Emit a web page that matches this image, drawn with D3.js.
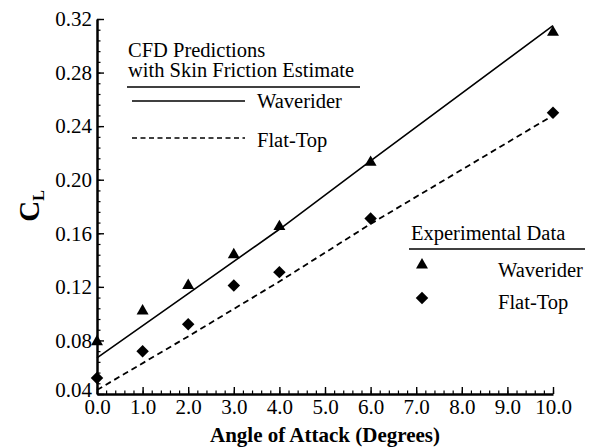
<!DOCTYPE html>
<html><head><meta charset="utf-8">
<script src="https://cdn.jsdelivr.net/npm/d3@7"></script>
<style>
body{margin:0;background:#fff;}
svg text{font-family:"Liberation Serif","Tinos","Times New Roman","DejaVu Serif","Noto Serif",serif !important;fill:#000;}
</style></head>
<body><svg id="c" width="611" height="447"></svg>
<script>
// ---- data ----
const expAngles = [0, 1, 2, 3, 4, 6, 10];
const expWaverider = [0.079, 0.102, 0.121, 0.144, 0.165, 0.213, 0.310];
const expFlatTop   = [0.052, 0.072, 0.092, 0.121, 0.131, 0.171, 0.250];
const cfdAngles = [0, 2, 4, 6, 10];
const cfdWaverider = [0.067, 0.115, 0.163, 0.214, 0.315];
const cfdFlatTop   = [0.043, 0.083, 0.124, 0.167, 0.248];
const xTicks = [0,1,2,3,4,5,6,7,8,9,10];
const yTicks = [0.04,0.08,0.12,0.16,0.20,0.24,0.28,0.32];

const svg = d3.select("#c");
const x = d3.scaleLinear().domain([0,10]).range([97,553]);
const y = d3.scaleLinear().domain([0.04,0.32]).range([394,19]);

// minor ticks
const xMinor = d3.range(0,10.0001,0.2);
const yMinor = d3.range(0.04,0.32001,0.008);
svg.append("g").attr("transform",`translate(0,${y(0.04)})`)
  .call(d3.axisBottom(x).tickValues(xMinor).tickSize(-3.5).tickSizeOuter(0).tickFormat(""))
  .call(g=>g.select(".domain").remove()).selectAll("line").attr("stroke-width",1.2);
svg.append("g").attr("transform",`translate(${x(0)},0)`)
  .call(d3.axisLeft(y).tickValues(yMinor).tickSize(-3.5).tickSizeOuter(0).tickFormat(""))
  .call(g=>g.select(".domain").remove()).selectAll("line").attr("stroke-width",1.2);

// major axes
const gx = svg.append("g").attr("transform",`translate(0,${y(0.04)})`)
  .call(d3.axisBottom(x).tickValues(xTicks).tickSize(-7).tickSizeOuter(0).tickPadding(5).tickFormat(d3.format(".1f")));
gx.select(".domain").attr("stroke-width",2.5);
gx.selectAll("line").attr("stroke-width",1.4);
gx.selectAll("text").attr("font-size",21);
const gy = svg.append("g").attr("transform",`translate(${x(0)},0)`)
  .call(d3.axisLeft(y).tickValues(yTicks).tickSize(-7).tickSizeOuter(0).tickPadding(5).tickFormat(d3.format(".2f")));
gy.select(".domain").attr("stroke-width",2.5);
gy.selectAll("line").attr("stroke-width",1.4);
gy.selectAll("text").attr("font-size",21);
gy.selectAll(".tick").filter(d=>d===0.04).select("text").attr("dy","0.1em");

// axis titles
svg.append("text").attr("x",(x(0)+x(10))/2).attr("y",442).attr("text-anchor","middle")
  .attr("font-size",21).attr("font-weight","bold").text("Angle of Attack (Degrees)");
const yt = svg.append("text").attr("transform","translate(39,206) rotate(-90)")
  .attr("text-anchor","middle").attr("font-weight","bold");
yt.append("tspan").attr("font-size",29).text("C");
yt.append("tspan").attr("font-size",16).attr("dy",5).text("L");

// CFD lines
const line = d3.line().x(d=>x(d[0])).y(d=>y(d[1]));
svg.append("path").datum(cfdAngles.map((a,i)=>[a,cfdWaverider[i]]))
  .attr("d",line).attr("fill","none").attr("stroke","#000").attr("stroke-width",1.6);
svg.append("path").datum(cfdAngles.map((a,i)=>[a,cfdFlatTop[i]]))
  .attr("d",line).attr("fill","none").attr("stroke","#000").attr("stroke-width",1.8).attr("stroke-dasharray","6,4");

// experimental markers
const tri = d3.symbol().type(d3.symbolTriangle).size(62);
const dia = d3.symbol().type(d3.symbolSquare).size(78);
svg.append("g").selectAll("path").data(expAngles.map((a,i)=>[a,expWaverider[i]])).join("path")
  .attr("d",tri).attr("transform",d=>`translate(${x(d[0])},${y(d[1])})`).attr("fill","#000");
svg.append("g").selectAll("path").data(expAngles.map((a,i)=>[a,expFlatTop[i]])).join("path")
  .attr("d",dia).attr("transform",d=>`translate(${x(d[0])},${y(d[1])}) rotate(45)`).attr("fill","#000");

// legend 1
const fs = 20.5;
const L1 = svg.append("g");
L1.append("text").attr("x",128).attr("y",57).attr("font-size",fs).text("CFD Predictions");
L1.append("text").attr("x",128).attr("y",77).attr("font-size",fs).text("with Skin Friction Estimate");
L1.append("line").attr("x1",127).attr("x2",360).attr("y1",87).attr("y2",87).attr("stroke","#000").attr("stroke-width",1.3);
L1.append("line").attr("x1",132).attr("x2",245).attr("y1",101).attr("y2",101).attr("stroke","#000").attr("stroke-width",1.4);
L1.append("text").attr("x",257).attr("y",108).attr("font-size",fs).text("Waverider");
L1.append("line").attr("x1",132).attr("x2",245).attr("y1",138).attr("y2",138).attr("stroke","#000").attr("stroke-width",1.4).attr("stroke-dasharray","5,3.5");
L1.append("text").attr("x",257).attr("y",147).attr("font-size",fs).text("Flat-Top");

// legend 2
const L2 = svg.append("g");
L2.append("text").attr("x",411).attr("y",240).attr("font-size",fs).text("Experimental Data");
L2.append("line").attr("x1",409).attr("x2",585).attr("y1",249).attr("y2",249).attr("stroke","#000").attr("stroke-width",1.3);
L2.append("path").attr("d",tri).attr("transform","translate(422,265)").attr("fill","#000");
L2.append("text").attr("x",498).attr("y",277).attr("font-size",fs).text("Waverider");
L2.append("path").attr("d",dia).attr("transform","translate(422,298) rotate(45)").attr("fill","#000");
L2.append("text").attr("x",498).attr("y",309).attr("font-size",fs).text("Flat-Top");
</script></body></html>
